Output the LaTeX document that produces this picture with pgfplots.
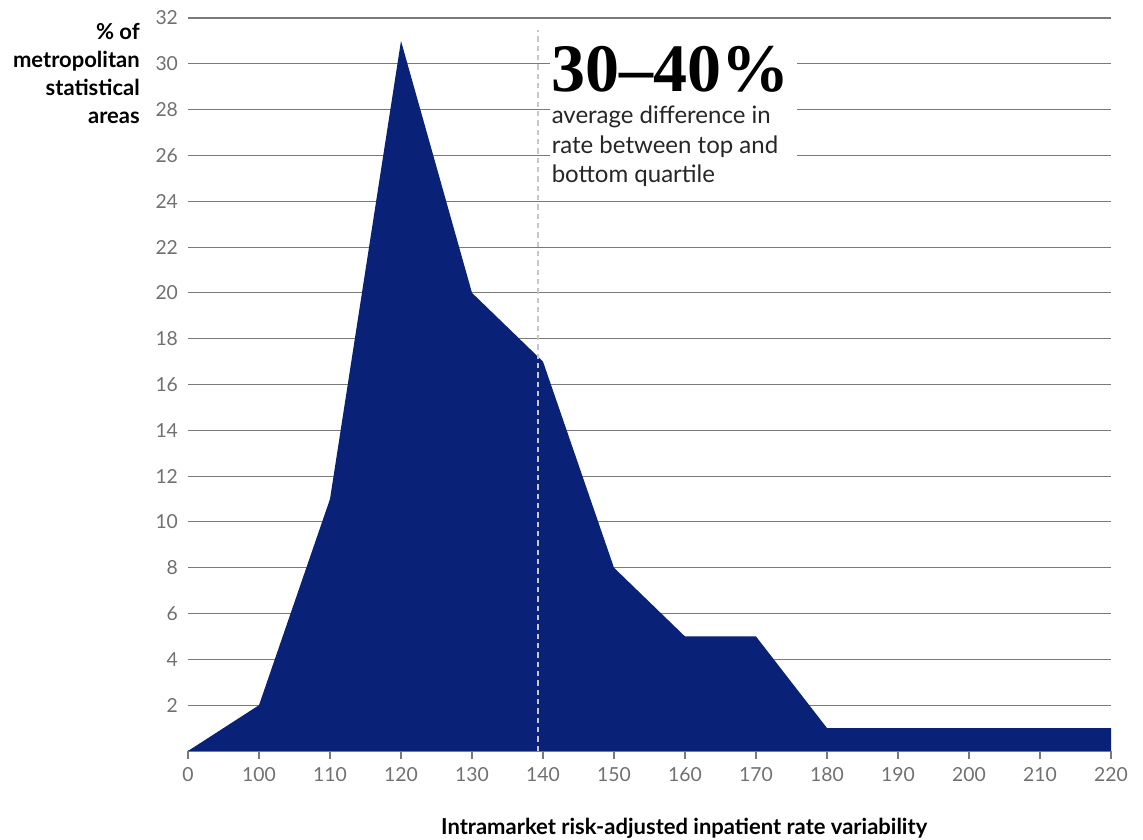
\documentclass[border=0pt]{standalone}
\usepackage{pgfplots}
\pgfplotsset{compat=1.18}
\usepackage{fontspec}
\setmainfont{Lato}
\newfontfamily\numfont{Liberation Serif}
\definecolor{navy}{HTML}{0A2178}
\definecolor{gridgray}{HTML}{7A7A7A}
\definecolor{ticktext}{HTML}{707070}
\definecolor{dashgray}{HTML}{C8C8C8}

\begin{document}
\begin{tikzpicture}[x=1pt,y=1pt]
\begin{axis}[
  name=main,
  scale only axis,
  width=692.25pt, height=549.75pt,
  xmin=0, xmax=13, ymin=0, ymax=32,
  xtick={0,...,13},
  xticklabels={0,100,110,120,130,140,150,160,170,180,190,200,210,220},
  ytick={2,4,...,32},
  axis x line*=bottom,
  axis y line*=left,
  y axis line style={draw=none},
  x axis line style={draw=gridgray, line width=0.8pt},
  ymajorgrids,
  grid style={draw=gridgray, line width=0.8pt},
  ytick style={draw=none},
  xtick style={draw=gridgray, line width=0.8pt},
  tick align=outside,
  major tick length=6pt,
  ticklabel style={font=\fontsize{14.5}{16}\selectfont, text=ticktext},
  /pgf/number format/assume math mode=true,
  yticklabel style={xshift=2pt},
  xticklabel style={yshift=-3pt},
  clip=false,
]
% distribution of metropolitan areas by variability
\addplot[fill=navy, draw=none] coordinates {
  (0,0) (1,2) (2,11) (3,31) (4,20) (5,17) (6,8) (7,5) (8,5)
  (9,1) (10,1) (11,1) (12,1) (13,1)
} \closedcycle;

% quartile marker
\addplot[draw=dashgray, line width=0.9pt, dash pattern=on 4pt off 3pt]
  coordinates {(4.93,0) (4.93,31.48)};

% callout
\fill[white] (axis cs:5.099,24.6) rectangle (axis cs:8.577,31.69);
\node[anchor=base west, inner sep=0pt, font=\numfont\bfseries\fontsize{51}{51}\selectfont]
  at (axis cs:5.12,28.80) {30–40\%};
\node[anchor=base west, inner sep=0pt, font=\fontsize{18}{22}\selectfont, text=black!85]
  at (axis cs:5.12,27.40) {average difference in};
\node[anchor=base west, inner sep=0pt, font=\fontsize{18}{22}\selectfont, text=black!85]
  at (axis cs:5.12,26.10) {rate between top and};
\node[anchor=base west, inner sep=0pt, font=\fontsize{18}{22}\selectfont, text=black!85]
  at (axis cs:5.12,24.80) {bottom quartile};

% axis titles
\node[anchor=north east, align=right, inner sep=0pt,
      font=\bfseries\fontsize{16.5}{21}\selectfont]
  at ([xshift=-36pt, yshift=-4pt]rel axis cs:0,1)
  {\% of\\metropolitan\\statistical\\areas};
\node[anchor=center, inner sep=0pt, font=\bfseries\fontsize{16.5}{19}\selectfont]
  at ([xshift=26pt, yshift=-58pt]rel axis cs:0.5,0)
  {Intramarket risk-adjusted inpatient rate variability};
\end{axis}
\pgfresetboundingbox
\useasboundingbox ([xshift=-141pt, yshift=-66.75pt]main.south west)
  rectangle ([xshift=24pt, yshift=13.5pt]main.north east);
\end{tikzpicture}
\end{document}
